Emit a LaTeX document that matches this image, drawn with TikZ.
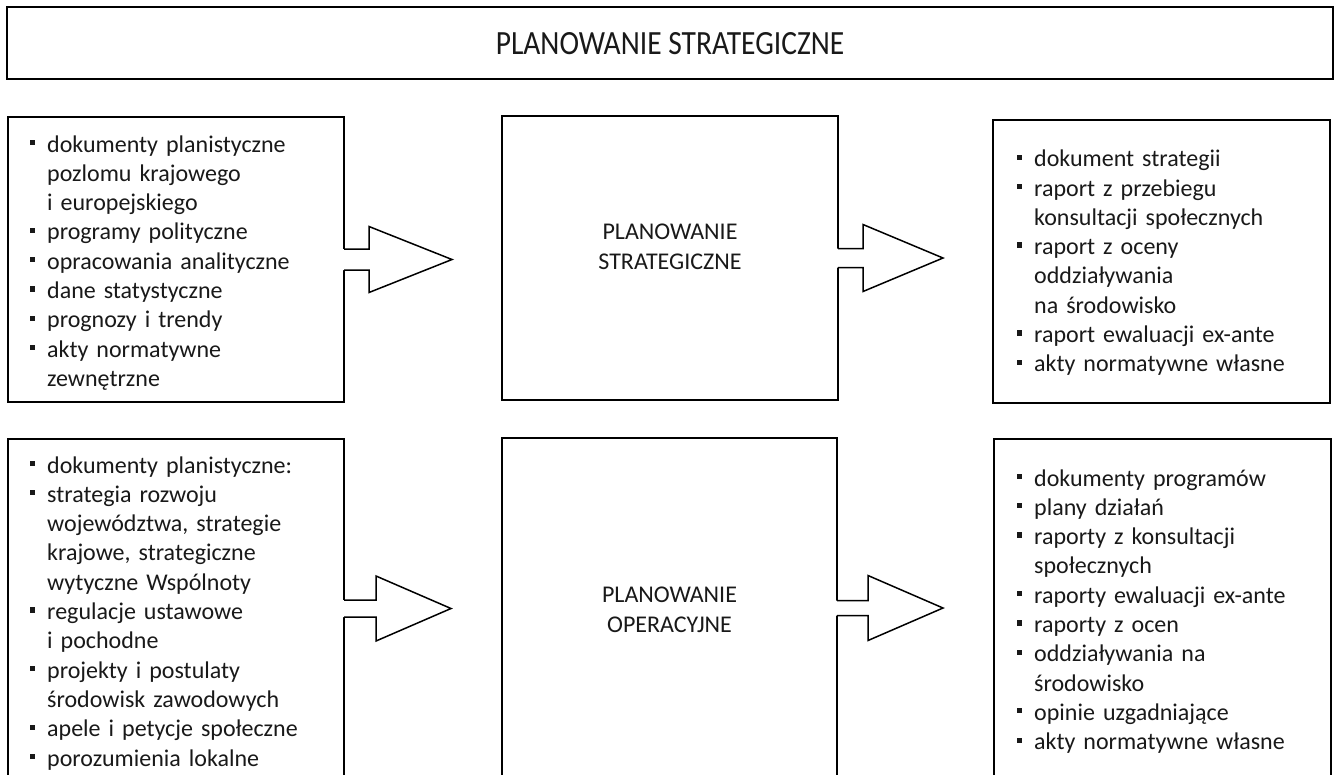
\documentclass[tikz,border=0pt]{standalone}
\usepackage{fontspec}
\setmainfont{Carlito}
\usepackage{graphicx}
\usetikzlibrary{calc}

\definecolor{ink}{gray}{0.1}

% square bullet hung in the left margin of a list line
\newcommand\sqb{\makebox[0pt][r]{\textcolor{ink}{\rule[7pt]{5.2pt}{5.2pt}}\hspace{12.5pt}}}

% block arrow leaving the east side of a box
% #1 box, #2 neck length, #3 shaft half height, #4 head half height, #5 total length
\newcommand\blockarrow[5]{%
  \begin{scope}[shift={(#1.east)}]
    \fill[white] (-2,-#3) -- (#2,-#3) -- (#2,-#4) -- (#5,0) -- (#2,#4) -- (#2,#3) -- (-2,#3) -- cycle;
    \draw[arrowline] (0,-#3) -- (#2,-#3) -- (#2,-#4) -- (#5,0) -- (#2,#4) -- (#2,#3) -- (0,#3);
  \end{scope}}

\tikzset{
  frame/.style={draw=black, line width=1.7pt, inner sep=0pt, outer sep=0pt, anchor=north west},
  arrowline/.style={draw=black, line width=1.5pt, line join=miter},
  listtext/.style={anchor=base west, inner sep=0pt, align=left, text width=285pt,
    font=\fontsize{24}{29.3}\selectfont, text=ink},
  midtext/.style={anchor=base, inner sep=0pt, align=center, text width=240pt,
    font=\fontsize{24}{30}\selectfont, text=ink},
  titletext/.style={inner sep=0pt, font=\fontsize{29.5}{34}\selectfont, text=ink}
}

\begin{document}
\begin{tikzpicture}[x=1pt, y=-1pt]
\useasboundingbox (0,0) rectangle (1337,774);
\clip (0,0) rectangle (1337,774);
\fill[white] (0,0) rectangle (1337,774);

% heading bar
\node[frame, minimum width=1326pt, minimum height=72pt] (T) at (7,7) {};
\node[titletext] (Tt) at ($(T.center)+(0,1)$) {\scalebox{1}[1.15]{PLANOWANIE STRATEGICZNE}};

% strategic row
\node[frame, minimum width=336pt, minimum height=285pt] (L1) at (8,117) {};
\node[frame, minimum width=336pt, minimum height=284pt] (M1) at (502,116) {};
\node[frame, minimum width=337pt, minimum height=283pt] (R1) at (993,120) {};

% operational row
\node[frame, minimum width=336pt, minimum height=339pt] (L2) at (8,439) {};
\node[frame, minimum width=335pt, minimum height=340pt] (M2) at (502,438) {};
\node[frame, minimum width=337pt, minimum height=339pt] (R2) at (994,439) {};

% arrows
\blockarrow{L1}{25}{10.5}{33}{108}
\blockarrow{M1}{25}{9.5}{33.5}{105}
\blockarrow{L2}{32}{8.5}{32.5}{107}
\blockarrow{M2}{31}{7.5}{32.5}{106}

% centre labels
\node[midtext] (M1t) at ($(M1.north)+(0,123)$) {PLANOWANIE\\STRATEGICZNE};
\node[midtext] (M2t) at ($(M2.north)+(0,164)$) {PLANOWANIE\\OPERACYJNE};

% input and output lists
\node[listtext] (L1t) at ($(L1.north west)+(39,35)$) {%
\sqb dokumenty planistyczne\\
pozlomu krajowego\\
i europejskiego\\
\sqb programy polityczne\\
\sqb opracowania analityczne\\
\sqb dane statystyczne\\
\sqb prognozy i trendy\\
\sqb akty normatywne\\
zewnętrzne};

\node[listtext] (R1t) at ($(R1.north west)+(41,46.7)$) {%
\sqb dokument strategii\\
\sqb raport z przebiegu\\
konsultacji społecznych\\
\sqb raport z oceny\\
oddziaływania\\
na środowisko\\
\sqb raport ewaluacji ex-ante\\
\sqb akty normatywne własne};

\node[listtext] (L2t) at ($(L2.north west)+(39,34)$) {%
\sqb dokumenty planistyczne:\\
\sqb strategia rozwoju\\
województwa, strategie\\
krajowe, strategiczne\\
wytyczne Wspólnoty\\
\sqb regulacje ustawowe\\
i pochodne\\
\sqb projekty i postulaty\\
środowisk zawodowych\\
\sqb apele i petycje społeczne\\
\sqb porozumienia lokalne};

\node[listtext] (R2t) at ($(R2.north west)+(40,47)$) {%
\sqb dokumenty programów\\
\sqb plany działań\\
\sqb raporty z konsultacji\\
społecznych\\
\sqb raporty ewaluacji ex-ante\\
\sqb raporty z ocen\\
\sqb oddziaływania na\\
środowisko\\
\sqb opinie uzgadniające\\
\sqb akty normatywne własne};
\end{tikzpicture}
\end{document}
